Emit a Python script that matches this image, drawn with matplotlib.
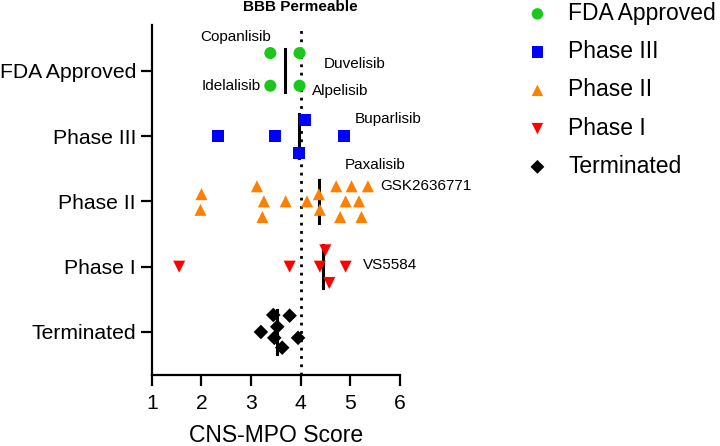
import matplotlib.pyplot as plt

# categorias (de cima para baixo)
categories = ['FDA Approved', 'Phase III', 'Phase II', 'Phase I', 'Terminated']
ypos = [5, 4, 3, 2, 1]

# valores CNS-MPO por grupo e deslocamento vertical (jitter)
fda_x = [3.39, 3.98, 3.39, 3.98]
fda_dy = [0.27, 0.27, -0.23, -0.23]
ph3_x = [2.34, 3.49, 4.88, 4.10, 3.96]
ph3_dy = [0.0, 0.0, 0.0, 0.24, -0.26]
ph2_x = [2.00, 1.98, 3.12, 3.26, 3.23, 3.70, 4.13, 4.37, 4.39, 4.72, 5.03, 5.36, 4.91, 5.18, 4.80, 5.23]
ph2_dy = [0.11, -0.13, 0.23, 0.0, -0.24, 0.0, 0.0, 0.11, -0.13, 0.23, 0.23, 0.23, 0.0, 0.0, -0.24, -0.24]
ph1_x = [1.55, 3.78, 4.39, 4.50, 4.91, 4.58]
ph1_dy = [0.0, 0.0, 0.0, 0.25, 0.0, -0.25]
term_x = [3.45, 3.78, 3.53, 3.20, 3.47, 3.95, 3.63]
term_dy = [0.26, 0.25, 0.08, 0.0, -0.09, -0.09, -0.24]

# medianas
medians = [3.68, 3.97, 4.38, 4.45, 3.53]

# nomes dos compostos (x, y em unidades de dados)
names = ['Copanlisib', 'Duvelisib', 'Idelalisib', 'Alpelisib', 'Buparlisib', 'Paxalisib', 'GSK2636771', 'VS5584']
name_x = [1.98, 4.47, 2.0, 4.24, 5.09, 4.89, 5.6, 5.26]
name_y = [5.52, 5.11, 4.77, 4.69, 4.26, 3.56, 3.24, 2.03]

groups = [
    ('FDA Approved', fda_x, fda_dy, 'o', '#19c819', 5),
    ('Phase III', ph3_x, ph3_dy, 's', '#0000ff', 4),
    ('Phase II', ph2_x, ph2_dy, '^', '#ff8000', 3),
    ('Phase I', ph1_x, ph1_dy, 'v', '#ff0000', 2),
    ('Terminated', term_x, term_dy, 'D', 'black', 1),
]

plt.rcParams['font.family'] = ['Liberation Sans', 'DejaVu Sans']

fig = plt.figure(figsize=(7.2, 4.46), dpi=100)
ax = fig.add_axes([0.211, 0.159, 0.344, 0.785])

# linha de corte BBB
ax.axvline(4, color='black', linestyle=(0, (1, 2)), linewidth=2, zorder=1)

handles = []
for label, xs, dys, mk, col, y0 in groups:
    ys = [y0 + d for d in dys]
    size = 55 if mk == 'D' else 75
    h = ax.scatter(xs, ys, marker=mk, s=size, color=col, edgecolors='none', label=label, zorder=3)
    handles.append(h)

for m, y0 in zip(medians, ypos):
    ax.plot([m, m], [y0 - 0.33, y0 + 0.33], color='black', linewidth=2.2, zorder=2)

for n, x, y in zip(names, name_x, name_y):
    ax.text(x, y, n, fontsize=11, ha='left', va='center')

ax.text(4, 5.98, 'BBB Permeable', fontsize=11, fontweight='bold', ha='center', va='center')

ax.set_xlim(1, 6)
ax.set_ylim(0.34, 5.7)
ax.set_xticks([1, 2, 3, 4, 5, 6])
ax.set_yticks(ypos)
ax.set_yticklabels(categories)
ax.tick_params(axis='both', labelsize=15.2, width=1.6, length=8)
ax.tick_params(axis='x', pad=5.5)
ax.set_xlabel('CNS-MPO Score', fontsize=16.5, labelpad=8)

for s in ['top', 'right']:
    ax.spines[s].set_visible(False)
for s in ['left', 'bottom']:
    ax.spines[s].set_linewidth(1.6)

fig.legend(handles=handles, loc='upper left', bbox_to_anchor=(0.6923, 1.042), frameon=False,
           fontsize=16.5, handlelength=1.6, handletextpad=0.55, labelspacing=0.665,
           scatterpoints=1, markerscale=0.95)

plt.savefig('out.png', dpi=100)
